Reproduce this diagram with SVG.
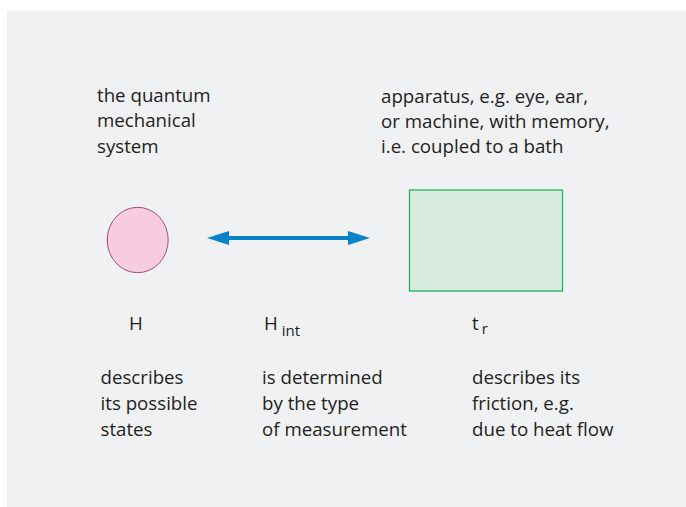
<svg xmlns="http://www.w3.org/2000/svg" width="686" height="507" viewBox="0 0 686 507">
<defs>
<style>
text{font-family:"Open Sans","Noto Sans","Liberation Sans",sans-serif;font-size:18.7px;fill:#231f20}
.sub{font-size:15px}
</style>
<marker id="ah" viewBox="0 0 22 14" refX="0" refY="7" markerWidth="22" markerHeight="14" markerUnits="userSpaceOnUse" orient="auto-start-reverse">
<path d="M0,0 L22,7 L0,14 Z" fill="#0a82c8"/>
</marker>
</defs>
<rect x="7" y="11" width="679" height="496" fill="#f0f1f3"/>
<g id="system">
<ellipse cx="137.7" cy="240" rx="30.5" ry="32.7" fill="#f8cce0" stroke="#9b4f7e" stroke-width="1"/>
<text x="97" y="102">the quantum</text>
<text x="97" y="127">mechanical</text>
<text x="97" y="152.5">system</text>
<text x="129" y="330">H</text>
<text x="100.5" y="383.5">describes</text>
<text x="100.5" y="410">its possible</text>
<text x="100.5" y="435.5">states</text>
</g>
<g id="apparatus">
<rect x="409.5" y="190" width="153" height="101" fill="#d8ece0" stroke="#22b35a" stroke-width="1.3"/>
<text x="381" y="102.5">apparatus, e.g. eye, ear,</text>
<text x="381" y="128">or machine, with memory,</text>
<text x="381" y="152.5">i.e. coupled to a bath</text>
<text x="472" y="330">t<tspan class="sub" dx="3" dy="4">r</tspan></text>
<text x="472" y="383.5">describes its</text>
<text x="472" y="410">friction, e.g.</text>
<text x="472" y="435.5">due to heat flow</text>
</g>
<g id="interaction">
<text x="264" y="330">H<tspan class="sub" dx="4" dy="6">int</tspan></text>
<text x="262" y="383.5">is determined</text>
<text x="262" y="410">by the type</text>
<text x="262" y="435.5">of measurement</text>
</g>
<g id="connectors">
<line x1="229" y1="238" x2="348" y2="238" stroke="#0a82c8" stroke-width="4" marker-start="url(#ah)" marker-end="url(#ah)"/>
</g>
</svg>
